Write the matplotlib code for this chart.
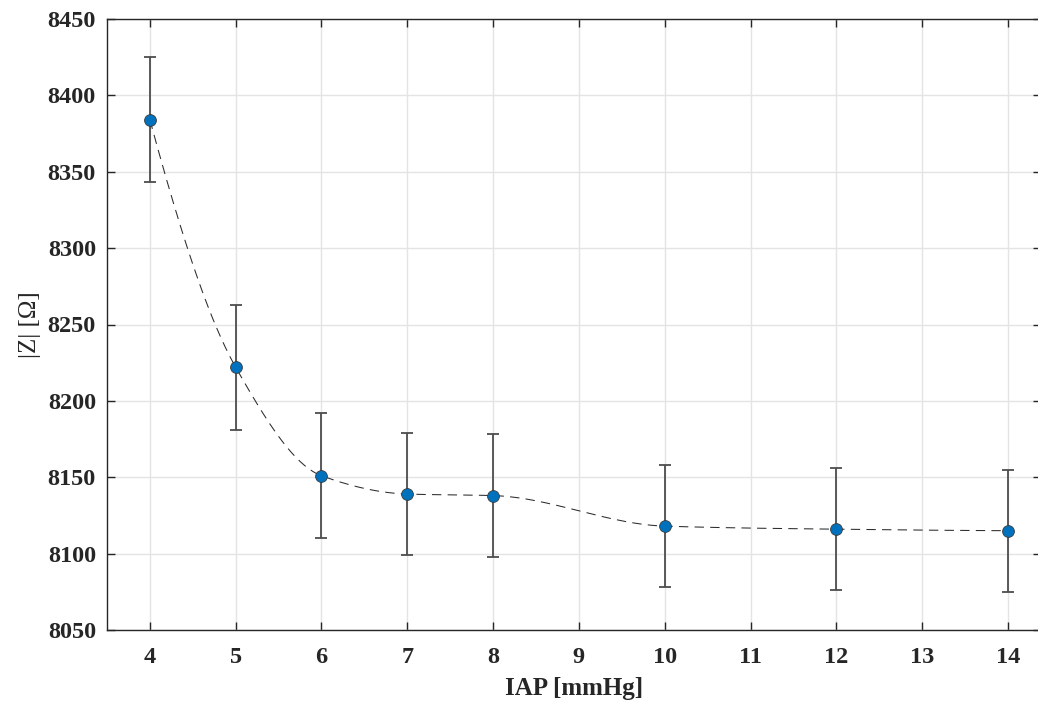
import numpy as np
import matplotlib
matplotlib.use("Agg")
import matplotlib.pyplot as plt

# data
iap = [4, 5, 6, 7, 8, 10, 12, 14]
z_mean = [8384, 8222, 8151, 8139, 8138, 8118, 8116, 8115]
z_err = [41, 41, 41, 40, 40, 40, 40, 40]

x_ticks = [4, 5, 6, 7, 8, 9, 10, 11, 12, 13, 14]
y_ticks = [8050, 8100, 8150, 8200, 8250, 8300, 8350, 8400, 8450]


def pchip(x, y, xs):
    # shape preserving piecewise cubic, like MATLAB pchip
    x = np.asarray(x, float)
    y = np.asarray(y, float)
    h = np.diff(x)
    d = np.diff(y) / h
    n = len(x)
    m = np.zeros(n)
    for k in range(1, n - 1):
        if d[k - 1] * d[k] > 0:
            w1 = 2 * h[k] + h[k - 1]
            w2 = h[k] + 2 * h[k - 1]
            m[k] = (w1 + w2) / (w1 / d[k - 1] + w2 / d[k])

    def end_slope(h0, h1, d0, d1):
        s = ((2 * h0 + h1) * d0 - h0 * d1) / (h0 + h1)
        if np.sign(s) != np.sign(d0):
            s = 0.0
        elif np.sign(d0) != np.sign(d1) and abs(s) > abs(3 * d0):
            s = 3 * d0
        return s

    m[0] = end_slope(h[0], h[1], d[0], d[1])
    m[-1] = end_slope(h[-1], h[-2], d[-1], d[-2])
    idx = np.clip(np.searchsorted(x, xs) - 1, 0, n - 2)
    t = (xs - x[idx]) / h[idx]
    h00 = 2 * t**3 - 3 * t**2 + 1
    h10 = t**3 - 2 * t**2 + t
    h01 = -2 * t**3 + 3 * t**2
    h11 = t**3 - t**2
    return (h00 * y[idx] + h10 * h[idx] * m[idx]
            + h01 * y[idx + 1] + h11 * h[idx] * m[idx + 1])


plt.rcParams['font.family'] = ['Liberation Serif', 'DejaVu Serif']

fig = plt.figure(figsize=(10.38, 7.04), dpi=100)
# right edge of the box sits just past the picture edge, as in the reference
ax = fig.add_axes([107 / 1038, 74 / 704, 934 / 1038, 611 / 704])

xs = np.linspace(iap[0], iap[-1], 400)
line, = ax.plot(xs, pchip(iap, z_mean, xs), color='#2b2b2b', lw=0.75, zorder=3)
line.set_dashes((9, 6))

ax.errorbar(iap, z_mean, yerr=z_err, fmt='none', ecolor='#4d4d4d',
            elinewidth=1.3, capsize=4, capthick=1.3, zorder=2)
ax.plot(iap, z_mean, 'o', color='#0072BD', markersize=8.5,
        markeredgecolor='#3a3a3a', markeredgewidth=0.6, zorder=4)

ax.set_xlim(3.5, 3.5 + 934 / 85.8)
ax.set_ylim(8050, 8450)
ax.set_xticks(x_ticks)
ax.set_yticks(y_ticks)
ax.grid(True, color='#e4e4e4', lw=1.0)
ax.set_axisbelow(True)

for s in ax.spines.values():
    s.set_color('#262626')
    s.set_linewidth(1.0)
ax.spines['right'].set_visible(False)
ax.tick_params(direction='in', length=6, width=1.0, color='#262626',
               top=True, right=True, labelsize=17.5)
ax.tick_params(axis='x', pad=12)
ax.tick_params(axis='y', pad=8)
for lab in ax.get_xticklabels() + ax.get_yticklabels():
    lab.set_fontweight('bold')
    lab.set_color('#262626')

ax.set_xlabel('IAP [mmHg]', fontsize=18, fontweight='bold', color='#262626',
              labelpad=7)
ax.set_ylabel('|Z| [Ω]', fontsize=18, color='#262626', labelpad=5)

fig.savefig('out.png', dpi=100)
